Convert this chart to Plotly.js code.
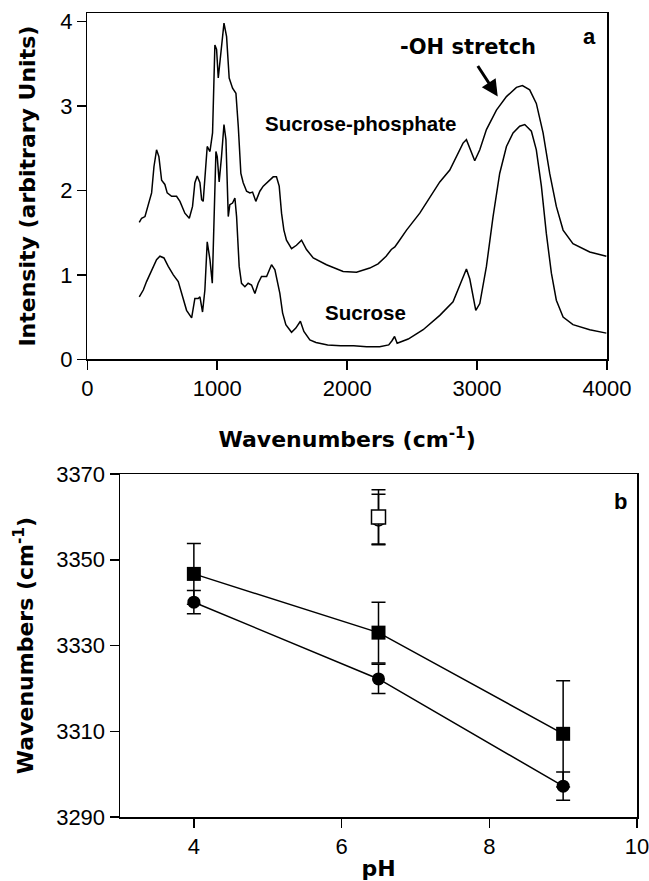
<!DOCTYPE html>
<html>
<head>
<meta charset="utf-8">
<script src="https://cdn.plot.ly/plotly-3.0.1.min.js"></script>
<style>html,body{margin:0;padding:0;background:#fff;}#chart{width:649px;height:881px;}</style>
</head>
<body>
<div id="chart"></div>
<script>
// Panel a: FTIR spectra
const spWavenumber = [400,418,444,469,495,513,533,551,572,597,615,649,687,713,751,785,810,828,846,867,880,892,913,923,944,964,982,995,1008,1026,1052,1072,1092,1118,1144,1162,1182,1200,1226,1251,1272,1297,1328,1354,1380,1405,1431,1456,1477,1495,1513,1533,1572,1610,1649,1687,1739,1841,1969,2072,2174,2238,2300,2340,2367,2390,2457,2559,2662,2713,2790,2854,2892,2918,2944,2982,3021,3072,3149,3226,3303,3349,3405,3456,3508,3559,3610,3662,3738,3867,3995];
const spIntensity = [1.62,1.67,1.69,1.83,1.97,2.28,2.48,2.40,2.12,2.07,1.97,1.93,1.93,1.87,1.73,1.67,1.81,2.09,2.17,2.09,1.89,1.87,2.28,2.52,2.46,2.68,3.72,3.67,3.33,3.59,3.98,3.82,3.33,3.21,3.15,2.76,2.20,2.09,1.99,1.97,1.98,1.87,1.99,2.05,2.09,2.12,2.16,2.16,2.05,1.73,1.53,1.41,1.31,1.35,1.41,1.30,1.20,1.12,1.04,1.03,1.08,1.13,1.22,1.30,1.33,1.38,1.53,1.73,1.97,2.10,2.24,2.44,2.56,2.60,2.50,2.35,2.48,2.72,2.95,3.11,3.22,3.24,3.19,3.03,2.68,2.20,1.81,1.53,1.37,1.27,1.22];

const sucWavenumber = [400,431,456,495,533,559,590,623,662,700,726,764,803,828,854,867,887,905,923,944,962,990,1000,1015,1033,1052,1067,1085,1097,1118,1136,1149,1169,1187,1213,1238,1264,1290,1315,1341,1380,1418,1444,1462,1482,1503,1528,1572,1605,1640,1667,1713,1760,1850,1950,2050,2150,2250,2320,2345,2365,2385,2420,2470,2585,2713,2815,2879,2918,2944,2990,3021,3072,3123,3174,3226,3277,3328,3367,3418,3456,3495,3533,3572,3610,3662,3738,3867,3995];
const sucIntensity = [0.74,0.82,0.92,1.06,1.18,1.22,1.20,1.10,1.00,0.92,0.78,0.58,0.49,0.72,0.72,0.74,0.56,0.82,1.39,1.18,0.90,2.46,2.40,2.10,2.40,2.78,2.60,1.69,1.83,1.85,1.91,1.69,1.10,0.90,0.86,0.90,0.88,0.78,0.90,0.98,0.98,1.12,1.06,0.94,0.78,0.55,0.41,0.32,0.37,0.45,0.33,0.23,0.20,0.17,0.16,0.16,0.15,0.15,0.17,0.22,0.27,0.19,0.21,0.24,0.35,0.52,0.68,0.92,1.07,0.95,0.58,0.66,1.10,1.69,2.20,2.52,2.68,2.76,2.78,2.70,2.48,2.05,1.49,1.02,0.70,0.50,0.41,0.35,0.31];

// Panel b: -OH stretch position vs pH
const pH = [4, 6.5, 9];
const squareWn = [3346.7, 3333.0, 3309.4];
const squareErr = [7.1, 7.1, 12.4];
const circleWn = [3340.1, 3322.2, 3297.2];
const circleErr = [2.7, 3.4, 3.3];
const openPH = [6.5];
const openSquareWn = [3360.0];
const openSquareErr = [6.3];
const openCircleWn = [3359.4];
const openCircleErr = [5.9];

const xTicksA = [0, 1000, 2000, 3000, 4000];
const yTicksA = [0, 1, 2, 3, 4];
const xTicksB = [4, 6, 8, 10];
const yTicksB = [3290, 3310, 3330, 3350, 3370];

const FONT = 'Liberation Sans, Arial, sans-serif';
const TFONT = 'DejaVu Sans, Liberation Sans, sans-serif';
const lineStyle = {color: '#000', width: 1.5};

const traces = [
  {x: spWavenumber, y: spIntensity, type: 'scatter', mode: 'lines', line: lineStyle, xaxis: 'x', yaxis: 'y', name: 'Sucrose-phosphate'},
  {x: sucWavenumber, y: sucIntensity, type: 'scatter', mode: 'lines', line: lineStyle, xaxis: 'x', yaxis: 'y', name: 'Sucrose'},
  {x: openPH, y: openCircleWn, type: 'scatter', mode: 'markers', xaxis: 'x2', yaxis: 'y2',
   marker: {symbol: 'circle', size: 13, color: '#fff', line: {color: '#000', width: 1.5}},
   error_y: {type: 'data', array: openCircleErr, visible: true, color: '#000', thickness: 1.5, width: 7}},
  {x: openPH, y: openSquareWn, type: 'scatter', mode: 'markers', xaxis: 'x2', yaxis: 'y2',
   marker: {symbol: 'square', size: 14, color: '#fff', line: {color: '#000', width: 1.5}},
   error_y: {type: 'data', array: openSquareErr, visible: true, color: '#000', thickness: 1.5, width: 7}},
  {x: pH, y: squareWn, type: 'scatter', mode: 'lines+markers', xaxis: 'x2', yaxis: 'y2',
   line: lineStyle, marker: {symbol: 'square', size: 14, color: '#000'},
   error_y: {type: 'data', array: squareErr, visible: true, color: '#000', thickness: 1.5, width: 7}},
  {x: pH, y: circleWn, type: 'scatter', mode: 'lines+markers', xaxis: 'x2', yaxis: 'y2',
   line: lineStyle, marker: {symbol: 'circle', size: 13, color: '#000'},
   error_y: {type: 'data', array: circleErr, visible: true, color: '#000', thickness: 1.5, width: 7}}
];

const axisCommon = {
  showline: true, linecolor: '#000', linewidth: 1.5, mirror: true,
  ticks: 'outside', ticklen: 9, tickwidth: 1.5, tickcolor: '#000',
  showgrid: false, zeroline: false, ticklabeloverflow: 'allow',
  tickfont: {family: FONT, size: 22, color: '#000'}
};
const titleFont = {family: TFONT, size: 22, color: '#000', weight: 'bold'};

const W = 649, H = 881;
const fx = p => p / W;
const fy = p => (H - p) / H;
const ann = (o) => Object.assign({showarrow: false, xanchor: 'center', yanchor: 'middle'}, o);

const layout = {
  width: W, height: H,
  margin: {l: 0, r: 0, t: 0, b: 0},
  paper_bgcolor: '#fff', plot_bgcolor: '#fff',
  showlegend: false,
  font: {family: FONT, color: '#000'},
  xaxis: Object.assign({}, axisCommon, {domain: [fx(87.3), fx(607)], range: [0, 4000], tickvals: xTicksA, anchor: 'y',
    title: {text: '<b>Wavenumbers (cm<sup>-1</sup>)</b>', font: titleFont, standoff: 31}}),
  yaxis: Object.assign({}, axisCommon, {domain: [fy(359.3), fy(13)], range: [0, 4.1], tickvals: yTicksA, anchor: 'x',
    title: {text: '<b>Intensity (arbitrary Units)</b>', font: titleFont, standoff: 18}}),
  xaxis2: Object.assign({}, axisCommon, {domain: [fx(120), fx(637)], range: [3, 10], tickvals: xTicksB, anchor: 'y2',
    title: {text: '<b>pH</b>', font: titleFont, standoff: 4}}),
  yaxis2: Object.assign({}, axisCommon, {domain: [fy(817), fy(474)], range: [3290, 3370], tickvals: yTicksB, anchor: 'x2',
    title: {text: '<b>Wavenumbers (cm<sup>-1</sup>)</b>', font: titleFont, standoff: 16}}),
  annotations: [
    ann({xref: 'x', yref: 'y', x: 2105, y: 2.79, text: '<b>Sucrose-phosphate</b>', font: {family: FONT, size: 20.5, color: '#000'}}),
    ann({xref: 'x', yref: 'y', x: 2144, y: 0.56, text: '<b>Sucrose</b>', font: {family: FONT, size: 20.5, color: '#000'}}),
    ann({xref: 'x', yref: 'y', x: 2928, y: 3.70, text: '<b>-OH stretch</b>', font: {family: TFONT, size: 21, color: '#000'}}),
    ann({xref: 'x', yref: 'y', x: 3867, y: 3.82, text: '<b>a</b>', font: {family: FONT, size: 22, color: '#000'}}),
    {xref: 'x', yref: 'y', x: 3159, y: 3.11, axref: 'x', ayref: 'y', ax: 2998, ay: 3.49, text: '', showarrow: true, arrowhead: 2, arrowsize: 1.1, arrowwidth: 3, arrowcolor: '#000'},
    ann({xref: 'x2', yref: 'y2', x: 9.78, y: 3363.5, text: '<b>b</b>', font: {family: FONT, size: 22, color: '#000'}})
  ]
};

Plotly.newPlot('chart', traces, layout, {staticPlot: true, displayModeBar: false});
</script>
</body>
</html>
